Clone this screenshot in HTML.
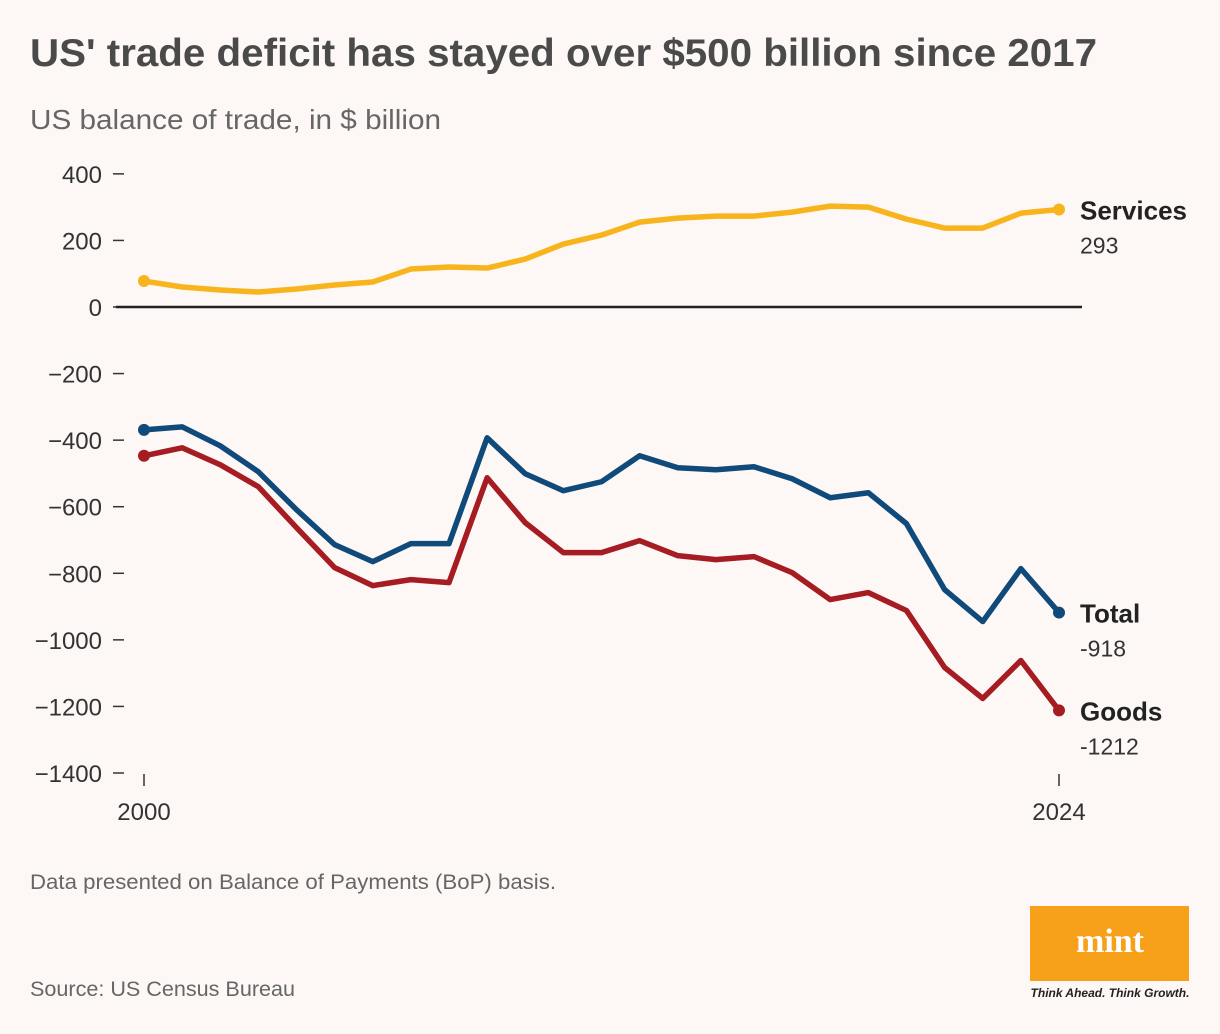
<!DOCTYPE html>
<html><head><meta charset="utf-8"><style>
body{margin:0;background:#fdf8f6;font-family:"Liberation Sans",sans-serif;}
#c{position:relative;width:1220px;height:1034px;overflow:hidden;background:#fdf8f6}
</style></head><body>
<div id="c">
<svg id="s" width="1220" height="1034">
<text x="30" y="66" font-size="39" font-weight="bold" fill="#4a4a4a" textLength="1067" lengthAdjust="spacingAndGlyphs">US' trade deficit has stayed over $500 billion since 2017</text>
<text x="30" y="129" font-size="28" fill="#666" textLength="411" lengthAdjust="spacingAndGlyphs">US balance of trade, in $ billion</text>
<text x="30" y="889" font-size="21" fill="#666" textLength="526" lengthAdjust="spacingAndGlyphs">Data presented on Balance of Payments (BoP) basis.</text>
<text x="30" y="996" font-size="21" fill="#666" textLength="265" lengthAdjust="spacingAndGlyphs">Source: US Census Bureau</text>
<rect x="1030" y="906" width="159" height="75" fill="#f7a11a"/>
<text x="1110" y="952" font-size="34" font-weight="bold" font-family="Liberation Serif,serif" fill="#fff" text-anchor="middle">mint</text>
<text x="1110" y="997" font-size="12" font-style="italic" font-weight="bold" fill="#222" text-anchor="middle">Think Ahead. Think Growth.</text>
<g id="g"></g>
</svg>
</div>
<script>
const years=[2000,2001,2002,2003,2004,2005,2006,2007,2008,2009,2010,2011,2012,2013,2014,2015,2016,2017,2018,2019,2020,2021,2022,2023,2024];
const services=[78,60,51,45,54,66,75,114,120,117,144,189,216,255,267,273,273,285,303,300,264,237,237,282,293];
const total=[-369,-360,-417,-495,-609,-714,-765,-711,-711,-393,-501,-552,-525,-447,-483,-489,-480,-516,-573,-558,-651,-849,-945,-786,-918];
const goods=[-447,-423,-474,-540,-663,-783,-837,-819,-828,-513,-648,-738,-738,-702,-747,-759,-750,-798,-879,-858,-912,-1083,-1176,-1062,-1212];
const yTicks=[400,200,0,-200,-400,-600,-800,-1000,-1200,-1400];
const xTickLabels=[2000,2024];
const NS="http://www.w3.org/2000/svg";
const g=document.getElementById('g');
const x=v=>144+(v-2000)*(1059-144)/24;
const y=v=>307-(v)*(466/1400);
function mk(t,a){const e=document.createElementNS(NS,t);for(const k in a)e.setAttribute(k,a[k]);g.appendChild(e);return e;}
yTicks.forEach(t=>{
 const l=mk('line',{x1:113,x2:124,y1:y(t),y2:y(t),stroke:'#333','stroke-width':1.5});
 
 
 const tx=mk('text',{x:102,y:y(t)+9,'font-size':24,fill:'#333','text-anchor':'end'});
 tx.textContent=t<0?'\u2212'+(-t):t;
 
 
});
const z=mk('line',{x1:116,x2:1082,y1:y(0),y2:y(0),stroke:'#222','stroke-width':2.5});


xTickLabels.forEach(t=>{
 const l=mk('line',{x1:x(t),x2:x(t),y1:774,y2:786,stroke:'#333','stroke-width':1.5});
 
 
 const tx=mk('text',{x:x(t),y:820,'font-size':24,fill:'#333','text-anchor':'middle'});
 tx.textContent=t;
 
 
});
const series=[[services,'#f8b41c','Services','services'],[total,'#0f4a7b','Total','total'],[goods,'#a51c22','Goods','goods']];
series.forEach(([d,col,name,key])=>{
 const p=mk('polyline',{points:d.map((v,i)=>x(years[i])+','+y(v)).join(' '),fill:'none',stroke:col,'stroke-width':5.5,'stroke-linejoin':'round'});
 
 
 [0,d.length-1].forEach(i=>{
  const c=mk('circle',{cx:x(years[i]),cy:y(d[i]),r:6,fill:col});
  
  
 });
 const last=d[d.length-1];
 const t1=mk('text',{x:1080,y:y(last)+10,'font-size':26,'font-weight':'bold',fill:'#222'});
 t1.textContent=name;
 
 
 const t2=mk('text',{x:1080,y:y(last)+44,'font-size':23,fill:'#333'});
 t2.textContent=last;
 
 
});
</script>
</body></html>
